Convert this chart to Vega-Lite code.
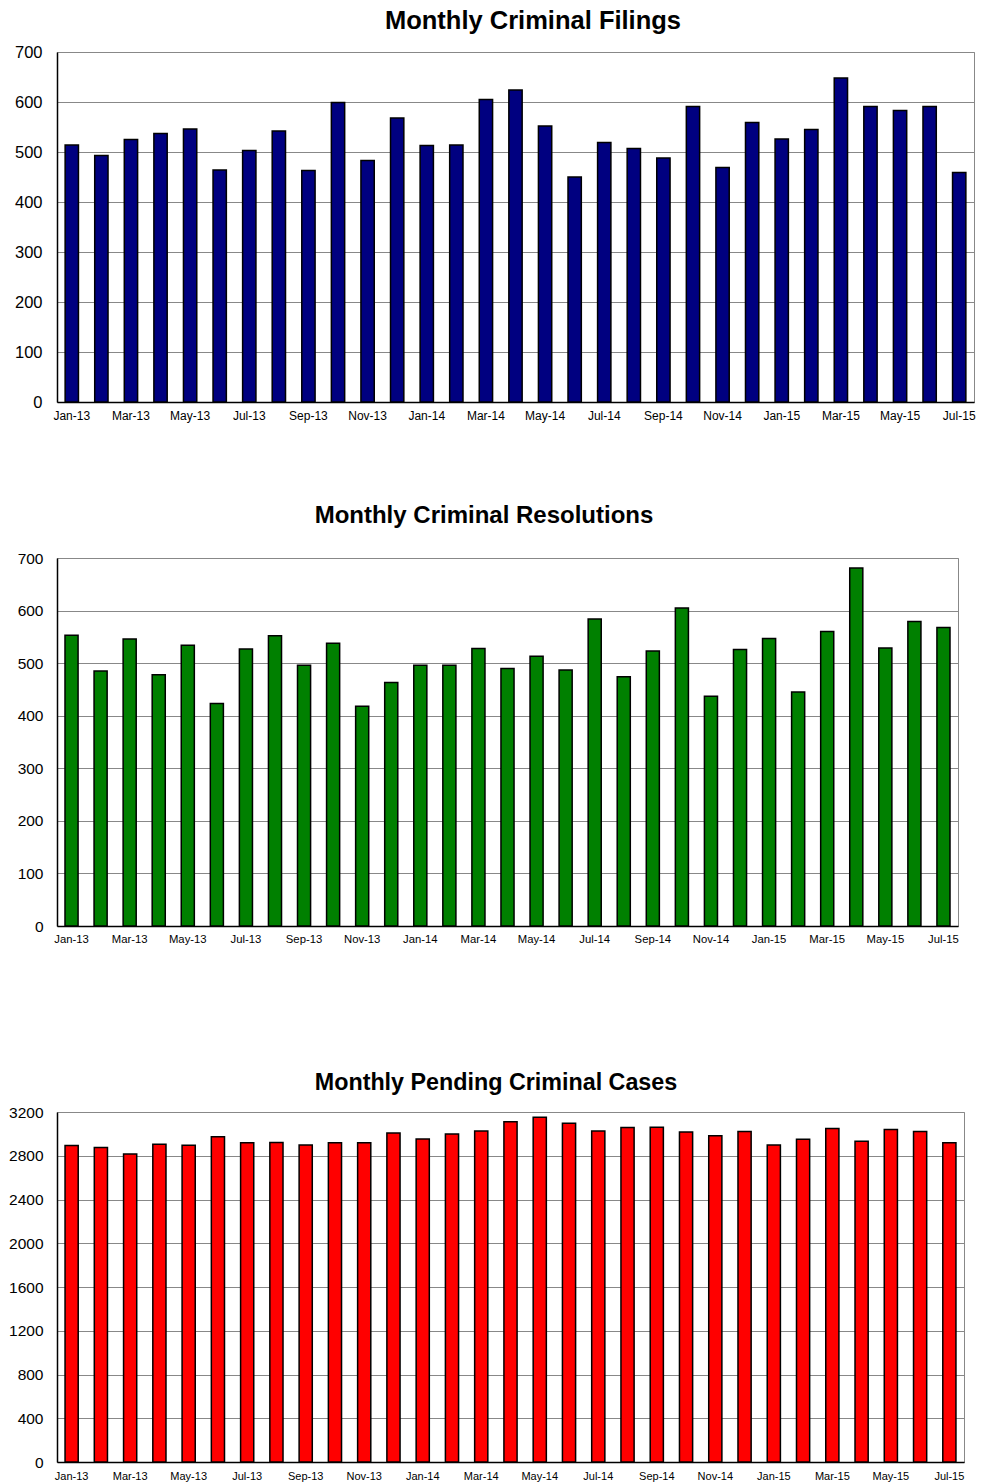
{
  "$schema": "https://vega.github.io/schema/vega-lite/v6.json",
  "padding": {"left": 8, "top": 8, "right": 0, "bottom": 0},
  "background": "white",
  "config": {
    "font": "Liberation Sans",
    "view": {"stroke": "#888888", "strokeWidth": 1},
    "axis": {"labelFont": "Liberation Sans", "labelColor": "black", "ticks": false, "domainColor": "black", "domainWidth": 1.5, "gridColor": "#888888", "gridWidth": 1, "title": null},
    "axisX": {"grid": false, "labelAngle": 0},
    "title": {"font": "Liberation Sans", "fontWeight": "bold", "color": "black", "anchor": "middle", "frame": "group", "baseline": "alphabetic"},
    "bar": {"stroke": "black", "strokeWidth": 1.5}
  },
  "data": {"values": [
    {"month": "Jan-13", "filings": 514, "resolutions": 553, "pending": 2893},
    {"month": "Feb-13", "filings": 493, "resolutions": 485, "pending": 2875},
    {"month": "Mar-13", "filings": 525, "resolutions": 546, "pending": 2817},
    {"month": "Apr-13", "filings": 537, "resolutions": 478, "pending": 2905},
    {"month": "May-13", "filings": 546, "resolutions": 534, "pending": 2896},
    {"month": "Jun-13", "filings": 464, "resolutions": 423, "pending": 2973},
    {"month": "Jul-13", "filings": 503, "resolutions": 527, "pending": 2918},
    {"month": "Aug-13", "filings": 542, "resolutions": 552, "pending": 2921},
    {"month": "Sep-13", "filings": 463, "resolutions": 496, "pending": 2899},
    {"month": "Oct-13", "filings": 599, "resolutions": 538, "pending": 2918},
    {"month": "Nov-13", "filings": 483, "resolutions": 418, "pending": 2918},
    {"month": "Dec-13", "filings": 568, "resolutions": 463, "pending": 3009},
    {"month": "Jan-14", "filings": 513, "resolutions": 496, "pending": 2954},
    {"month": "Feb-14", "filings": 514, "resolutions": 496, "pending": 3000},
    {"month": "Mar-14", "filings": 605, "resolutions": 528, "pending": 3027},
    {"month": "Apr-14", "filings": 624, "resolutions": 490, "pending": 3110},
    {"month": "May-14", "filings": 552, "resolutions": 513, "pending": 3152},
    {"month": "Jun-14", "filings": 450, "resolutions": 487, "pending": 3098},
    {"month": "Jul-14", "filings": 519, "resolutions": 584, "pending": 3027},
    {"month": "Aug-14", "filings": 507, "resolutions": 474, "pending": 3058},
    {"month": "Sep-14", "filings": 488, "resolutions": 523, "pending": 3061},
    {"month": "Oct-14", "filings": 591, "resolutions": 605, "pending": 3018},
    {"month": "Nov-14", "filings": 469, "resolutions": 437, "pending": 2982},
    {"month": "Dec-14", "filings": 559, "resolutions": 526, "pending": 3021},
    {"month": "Jan-15", "filings": 526, "resolutions": 547, "pending": 2899},
    {"month": "Feb-15", "filings": 545, "resolutions": 445, "pending": 2951},
    {"month": "Mar-15", "filings": 648, "resolutions": 560, "pending": 3049},
    {"month": "Apr-15", "filings": 591, "resolutions": 681, "pending": 2933},
    {"month": "May-15", "filings": 583, "resolutions": 529, "pending": 3040},
    {"month": "Jun-15", "filings": 591, "resolutions": 579, "pending": 3021},
    {"month": "Jul-15", "filings": 459, "resolutions": 568, "pending": 2918}
  ]},
  "spacing": 125,
  "vconcat": [
    {
      "spacing": 81,
      "vconcat": [
        {
          "width": 917,
          "height": 350,
          "title": {"text": "Monthly Criminal Filings", "fontSize": 25.5, "offset": 10, "dx": 17.5},
          "mark": {"type": "bar", "fill": "#000080"},
          "encoding": {
            "x": {"field": "month", "type": "ordinal", "sort": null, "scale": {"paddingInner": 0.55, "paddingOuter": 0.275},
              "axis": {"values": ["Jan-13","Mar-13","May-13","Jul-13","Sep-13","Nov-13","Jan-14","Mar-14","May-14","Jul-14","Sep-14","Nov-14","Jan-15","Mar-15","May-15","Jul-15"], "labelFontSize": 12, "labelPadding": 8}},
            "y": {"field": "filings", "type": "quantitative", "scale": {"domain": [0, 700], "nice": false},
              "axis": {"values": [0,100,200,300,400,500,600,700], "format": "d", "labelFontSize": 16.5, "labelPadding": 15}}
          }
        },
        {
          "width": 901,
          "height": 368,
          "title": {"text": "Monthly Criminal Resolutions", "fontSize": 24, "offset": 23, "dx": -23.5},
          "mark": {"type": "bar", "fill": "#008000"},
          "encoding": {
            "x": {"field": "month", "type": "ordinal", "sort": null, "scale": {"paddingInner": 0.55, "paddingOuter": 0.275},
              "axis": {"values": ["Jan-13","Mar-13","May-13","Jul-13","Sep-13","Nov-13","Jan-14","Mar-14","May-14","Jul-14","Sep-14","Nov-14","Jan-15","Mar-15","May-15","Jul-15"], "labelFontSize": 11.3, "labelPadding": 7}},
            "y": {"field": "resolutions", "type": "quantitative", "scale": {"domain": [0, 700], "nice": false},
              "axis": {"values": [0,100,200,300,400,500,600,700], "format": "d", "labelFontSize": 15.5, "labelPadding": 14}}
          }
        }
      ]
    },
    {
      "width": 907,
      "height": 350,
      "title": {"text": "Monthly Pending Criminal Cases", "fontSize": 23.3, "offset": 10, "dx": -14.5},
      "mark": {"type": "bar", "fill": "#FF0000"},
      "encoding": {
        "x": {"field": "month", "type": "ordinal", "sort": null, "scale": {"paddingInner": 0.55, "paddingOuter": 0.275},
          "axis": {"values": ["Jan-13","Mar-13","May-13","Jul-13","Sep-13","Nov-13","Jan-14","Mar-14","May-14","Jul-14","Sep-14","Nov-14","Jan-15","Mar-15","May-15","Jul-15"], "labelFontSize": 11, "labelPadding": 8}},
        "y": {"field": "pending", "type": "quantitative", "scale": {"domain": [0, 3200], "nice": false},
          "axis": {"values": [0,400,800,1200,1600,2000,2400,2800,3200], "format": "d", "labelFontSize": 15.5, "labelPadding": 14}}
      }
    }
  ]
}
